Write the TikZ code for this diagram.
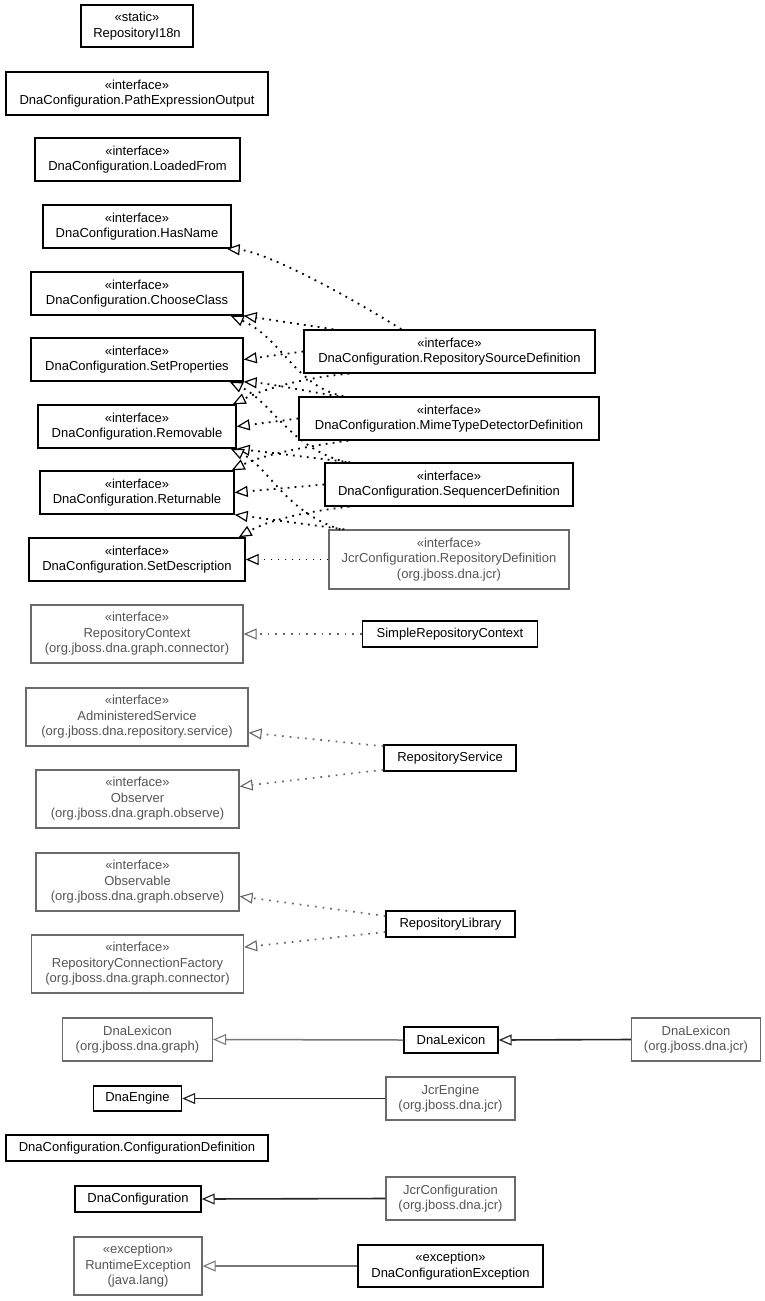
\documentclass[tikz,border=0pt]{standalone}
\usepackage{fontspec}
\setmainfont{Liberation Sans}
\usetikzlibrary{arrows.meta,calc}
\definecolor{exttext}{HTML}{555555}
\definecolor{extborder}{HTML}{6A6A6A}
\definecolor{extline}{HTML}{666666}
\definecolor{extsolid}{HTML}{777777}
\begin{document}
\begin{tikzpicture}[x=1pt,y=-1pt,
  every node/.style={font=\fontsize{13}{15.5}\selectfont},
  cls/.style={draw=black, line width=1.4pt, fill=white, inner sep=0pt, align=center, text=black},
  ext/.style={draw=extborder, line width=1.3pt, fill=white, inner sep=0pt, align=center, text=exttext},
  realb/.style={black, line width=1.8pt, dash pattern=on 1.8pt off 5.2pt,
    -{Triangle[length=13pt,width=11pt,fill=white,line width=1.2pt]}},
  realg/.style={extline, line width=1.7pt, dash pattern=on 1.7pt off 6pt,
    -{Triangle[length=13pt,width=11pt,fill=white,line width=1.1pt]}},
  solb/.style={black!85, line width=1.6pt,
    -{Triangle[length=13pt,width=11pt,fill=white,line width=1.2pt]}},
  solg/.style={extsolid, line width=1.5pt,
    -{Triangle[length=13pt,width=11pt,fill=white,line width=1.1pt]}}
]
\fill[white] (0,0) rectangle (765,1301);
\useasboundingbox (0,0) rectangle (765,1301);

% left column
\node[cls, minimum width=112pt, minimum height=42pt] (i18n) at (137,26) {«static»\\RepositoryI18n};
\node[cls, minimum width=262pt, minimum height=43pt] (pathexp) at (137,93.5) {«interface»\\DnaConfiguration.PathExpressionOutput};
\node[cls, minimum width=205pt, minimum height=43pt] (loaded) at (137.5,159.5) {«interface»\\DnaConfiguration.LoadedFrom};
\node[cls, minimum width=188pt, minimum height=43pt] (hasname) at (137,226.5) {«interface»\\DnaConfiguration.HasName};
\node[cls, minimum width=212pt, minimum height=43pt] (choose) at (137,293.5) {«interface»\\DnaConfiguration.ChooseClass};
\node[cls, minimum width=212pt, minimum height=43pt] (setprop) at (137,359.5) {«interface»\\DnaConfiguration.SetProperties};
\node[cls, minimum width=198pt, minimum height=43pt] (removable) at (137,426.5) {«interface»\\DnaConfiguration.Removable};
\node[cls, minimum width=194pt, minimum height=43pt] (returnable) at (137,492.5) {«interface»\\DnaConfiguration.Returnable};
\node[cls, minimum width=216pt, minimum height=43pt] (setdesc) at (137,559.5) {«interface»\\DnaConfiguration.SetDescription};

% definitions
\node[cls, minimum width=291pt, minimum height=43pt] (rsd) at (449.5,351.5) {«interface»\\DnaConfiguration.RepositorySourceDefinition};
\node[cls, minimum width=300pt, minimum height=43pt] (mtd) at (449,418.5) {«interface»\\DnaConfiguration.MimeTypeDetectorDefinition};
\node[cls, minimum width=248pt, minimum height=43pt] (sd) at (449,484.5) {«interface»\\DnaConfiguration.SequencerDefinition};
\node[ext, minimum width=240pt, minimum height=59pt] (jcrrd) at (449,559.5) {«interface»\\JcrConfiguration.RepositoryDefinition\\(org.jboss.dna.jcr)};

% lower part
\node[ext, minimum width=212pt, minimum height=58pt] (repctx) at (137,634) {«interface»\\RepositoryContext\\(org.jboss.dna.graph.connector)};
\node[cls, minimum width=175pt, minimum height=26pt] (src) at (450,634) {SimpleRepositoryContext};
\node[ext, minimum width=222pt, minimum height=58pt] (adminsvc) at (137,717) {«interface»\\AdministeredService\\(org.jboss.dna.repository.service)};
\node[cls, minimum width=132pt, minimum height=26pt] (reposvc) at (450,758) {RepositoryService};
\node[ext, minimum width=203pt, minimum height=58pt] (observer) at (137.5,799) {«interface»\\Observer\\(org.jboss.dna.graph.observe)};
\node[ext, minimum width=203pt, minimum height=58pt] (observable) at (137.5,882) {«interface»\\Observable\\(org.jboss.dna.graph.observe)};
\node[cls, minimum width=129pt, minimum height=26pt] (replib) at (450.5,924) {RepositoryLibrary};
\node[ext, minimum width=212pt, minimum height=58pt] (rcf) at (137.5,964) {«interface»\\RepositoryConnectionFactory\\(org.jboss.dna.graph.connector)};
\node[ext, minimum width=150pt, minimum height=43pt] (dnalexg) at (137.5,1039.5) {DnaLexicon\\(org.jboss.dna.graph)};
\node[cls, minimum width=94pt, minimum height=26pt] (dnalex) at (451,1040) {DnaLexicon};
\node[ext, minimum width=129pt, minimum height=43pt] (dnalexj) at (696,1039.5) {DnaLexicon\\(org.jboss.dna.jcr)};
\node[cls, minimum width=88pt, minimum height=25pt] (dnaeng) at (137.5,1098.5) {DnaEngine};
\node[ext, minimum width=129pt, minimum height=43pt] (jcreng) at (450.5,1098.5) {JcrEngine\\(org.jboss.dna.jcr)};
\node[cls, minimum width=262pt, minimum height=26pt] (confdef) at (137,1148) {DnaConfiguration.ConfigurationDefinition};
\node[cls, minimum width=126pt, minimum height=26pt] (dnaconf) at (138,1199) {DnaConfiguration};
\node[ext, minimum width=129pt, minimum height=43pt] (jcrconf) at (450.5,1198.5) {JcrConfiguration\\(org.jboss.dna.jcr)};
\node[ext, minimum width=128pt, minimum height=58pt] (rtex) at (138,1266) {«exception»\\RuntimeException\\(java.lang)};
\node[cls, minimum width=185pt, minimum height=42pt] (dnaconfex) at (450.5,1266) {«exception»\\DnaConfigurationException};

% realizations among configuration interfaces
\draw[realb] ($(rsd.north west)+(98,0)$) .. controls (355,300) and (268,252) .. ($(hasname.south east)+(-5,0)$);
\draw[realb] ($(rsd.north west)+(30,0)$) -- (choose.south east);
\draw[realb] ($(mtd.north west)+(45,0)$) .. controls (295,386) and (282,338) .. ($(choose.south east)+(-13,0)$);
\draw[realb] (rsd.west) -- (setprop.east);
\draw[realb] ($(mtd.north west)+(40,0)$) .. controls (300,390) and (272,384) .. (setprop.south east);
\draw[realb] ($(sd.north west)+(22,0)$) .. controls (290,448) and (272,402) .. ($(setprop.south east)+(-14,0)$);
\draw[realb] ($(rsd.south west)+(46,0)$) .. controls (300,378) and (262,390) .. ($(removable.north east)+(-4,0)$);
\draw[realb] (mtd.west) -- (removable.east);
\draw[realb] ($(sd.north west)+(26,0)$) -- (removable.south east);
\draw[realb] ($(jcrrd.north west)+(12,0)$) .. controls (285,512) and (268,466) .. ($(removable.south east)+(-6,0)$);
\draw[realb] ($(mtd.south west)+(50,0)$) .. controls (300,447) and (260,456) .. ($(returnable.north east)+(-3,0)$);
\draw[realb] (sd.west) -- (returnable.east);
\draw[realb] ($(jcrrd.north west)+(16,0)$) -- (returnable.south east);
\draw[realb] ($(sd.south west)+(25,0)$) .. controls (300,512) and (265,522) .. ($(setdesc.north east)+(-7,0)$);
\draw[realb] (jcrrd.west) -- (setdesc.east);

% realizations of external interfaces
\draw[realg] (src.west) -- (repctx.east);
\draw[realg] (reposvc.170) -- (adminsvc.-8);
\draw[realg] (reposvc.-170) -- (observer.7);
\draw[realg] (replib.173) -- (observable.-8);
\draw[realg] (replib.-173) -- (rcf.9);

% generalizations
\draw[solg] (dnalex.west) -- (dnalexg.east);
\draw[solb] (dnalexj.west) -- (dnalex.east);
\draw[solb] (jcreng.west) -- (dnaeng.east);
\draw[solb] (jcrconf.west) -- (dnaconf.east);
\draw[solg] (dnaconfex.west) -- (rtex.east);
\end{tikzpicture}
\end{document}
